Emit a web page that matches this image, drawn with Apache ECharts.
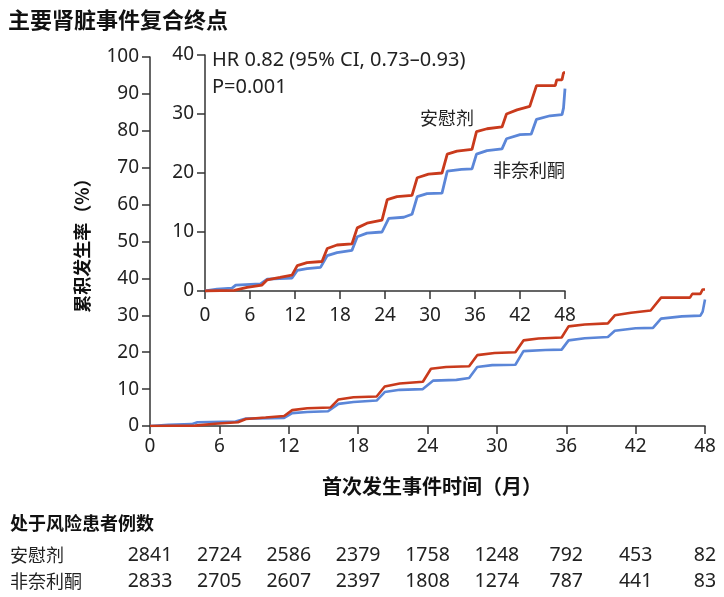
<!DOCTYPE html>
<html><head><meta charset="utf-8">
<script src="https://cdn.jsdelivr.net/npm/echarts@6/dist/echarts.min.js"></script>
<style>html,body{margin:0;padding:0;background:#fff}#c{width:724px;height:597px}</style>
</head><body><div id="c"></div>
<script>
// ---- data ----
const title = '主要肾脏事件复合终点';
const yName = '累积发生率（%）';
const xName = '首次发生事件时间（月）';
const riskTitle = '处于风险患者例数';
const groupNames = ['安慰剂', '非奈利酮'];
const hrText = 'HR 0.82 (95% CI, 0.73–0.93)';
const pText = 'P=0.001';
const xTicks = [0, 6, 12, 18, 24, 30, 36, 42, 48];

// placebo cumulative incidence (%)
const placeboT = [0, 2, 3.9, 5.6, 7.6, 8.3, 10, 11.6, 12.3, 13.6, 15.6, 16.3, 17.6, 19.6, 20.3, 21.6, 23.6, 24.3, 25.6, 27.6, 28.3, 29.8, 31.6, 32.3, 33.6, 35.6, 36.2, 37.6, 39.6, 40.2, 41.6, 43.3, 44.2, 46.7, 46.9, 47.6, 47.8, 48];
const placeboY = [0, 0.05, 0.1, 0.6, 1.0, 1.9, 2.3, 2.7, 4.3, 4.8, 5.0, 7.2, 7.8, 8.0, 10.7, 11.5, 12.0, 15.5, 16.0, 16.2, 19.2, 19.8, 20.0, 23.2, 23.7, 24.0, 27.0, 27.5, 27.8, 30.0, 30.7, 31.3, 34.8, 34.8, 35.8, 35.8, 37.0, 37.0];
// finerenone cumulative incidence (%)
const fineT = [0, 1.6, 3.6, 4.1, 7.4, 8.3, 11.6, 12.3, 13.6, 15.4, 16.3, 17.6, 19.6, 20.3, 21.6, 23.6, 24.5, 26.5, 27.6, 28.3, 29.6, 31.6, 32.3, 34.2, 35.6, 36.2, 37.6, 39.6, 40.2, 42, 43.5, 44.2, 46, 47.6, 47.8, 48];
const fineY = [0, 0.3, 0.5, 1.0, 1.2, 2.0, 2.2, 3.5, 3.8, 4.0, 6.0, 6.5, 6.9, 9.2, 9.8, 10.0, 12.3, 12.5, 13.0, 16.0, 16.5, 16.6, 20.3, 20.6, 20.7, 23.2, 23.8, 24.1, 25.8, 26.5, 26.6, 29.1, 29.7, 29.9, 31.0, 34.3];

const riskPlacebo = [2841, 2724, 2586, 2379, 1758, 1248, 792, 453, 82];
const riskFine = [2833, 2705, 2607, 2397, 1808, 1274, 787, 441, 83];

// ---- styles ----
const RED = '#c93a1c', BLUE = '#5b86d8', AX = '#333', TXT = '#222';
const FONT = "'Noto Sans', 'Noto Sans CJK SC', sans-serif";
const CJK = "'Noto Sans CJK SC', sans-serif";
const zip = (t, y) => t.map((v, i) => [v, y[i]]);

function xAxis(gridIndex, margin) {
  return {
    type: 'value', gridIndex, min: 0, max: 48, interval: 6,
    axisLine: { show: true, lineStyle: { color: AX, width: 1.5 } },
    axisTick: { show: true, length: 8, lineStyle: { color: AX, width: 1.5 } },
    axisLabel: { color: TXT, fontSize: 19, fontFamily: FONT, margin },
    splitLine: { show: false }
  };
}
function yAxis(gridIndex, max) {
  return {
    type: 'value', gridIndex, min: 0, max, interval: 10,
    axisLine: { show: true, lineStyle: { color: AX, width: 1.5 } },
    axisTick: { show: true, length: 8, lineStyle: { color: AX, width: 1.5 } },
    axisLabel: { color: TXT, fontSize: 19, fontFamily: FONT, margin: 11 },
    splitLine: { show: false }
  };
}
function line(name, data, color, xi, w) {
  return {
    type: 'line', name, data, xAxisIndex: xi, yAxisIndex: xi,
    showSymbol: false, symbol: 'none', animation: false, silent: true,
    lineStyle: { color, width: w }, z: color === RED ? 3 : 2
  };
}

const chart = echarts.init(document.getElementById('c'), null, { renderer: 'canvas' });
chart.setOption({
  animation: false,
  backgroundColor: '#fff',
  grid: [
    { left: 150, right: 19, top: 57, bottom: 171 },
    { left: 205, right: 159, top: 55, bottom: 306 }
  ],
  xAxis: [xAxis(0, 11), xAxis(1, 15)],
  yAxis: [yAxis(0, 100), yAxis(1, 40)],
  series: [
    line(groupNames[1], zip(fineT, fineY), BLUE, 0, 2.6),
    line(groupNames[0], zip(placeboT, placeboY), RED, 0, 2.6),
    line(groupNames[1], zip(fineT, fineY), BLUE, 1, 2.8),
    line(groupNames[0], zip(placeboT, placeboY), RED, 1, 2.8)
  ]
});

const g = [];
const T = (text, x, y, opts) => g.push({ type: 'text', x, y, style: Object.assign({ text, fill: TXT, font: `17px ${FONT}`, textVerticalAlign: 'middle' }, opts || {}) });
T(title, 8, 20, { font: `bold 22px ${CJK}`, fill: '#111' });
g.push({ type: 'text', x: 82, y: 241, rotation: Math.PI / 2, style: { text: yName, fill: '#111', font: `bold 18px ${CJK}`, textAlign: 'center', textVerticalAlign: 'middle' } });
T(xName, 432, 486, { font: `bold 20px ${CJK}`, fill: '#111', textAlign: 'center' });
T(hrText, 212, 60, { font: `20px ${FONT}` });
T(pText, 212, 87, { font: `20px ${FONT}` });
T(groupNames[0], 420, 118, { font: `18px ${CJK}` });
T(groupNames[1], 493, 170, { font: `18px ${CJK}` });
T(riskTitle, 10, 523, { font: `bold 18px ${CJK}`, fill: '#111' });
T(groupNames[0], 10, 555, { font: `18px ${CJK}` });
T(groupNames[1], 10, 581, { font: `18px ${CJK}` });
xTicks.forEach((t, i) => {
  const px = chart.convertToPixel({ xAxisIndex: 0 }, t);
  T(String(riskPlacebo[i]), px, 555, { font: `19.5px ${FONT}`, textAlign: 'center' });
  T(String(riskFine[i]), px, 581, { font: `19.5px ${FONT}`, textAlign: 'center' });
});
chart.setOption({ graphic: g });
</script></body></html>
